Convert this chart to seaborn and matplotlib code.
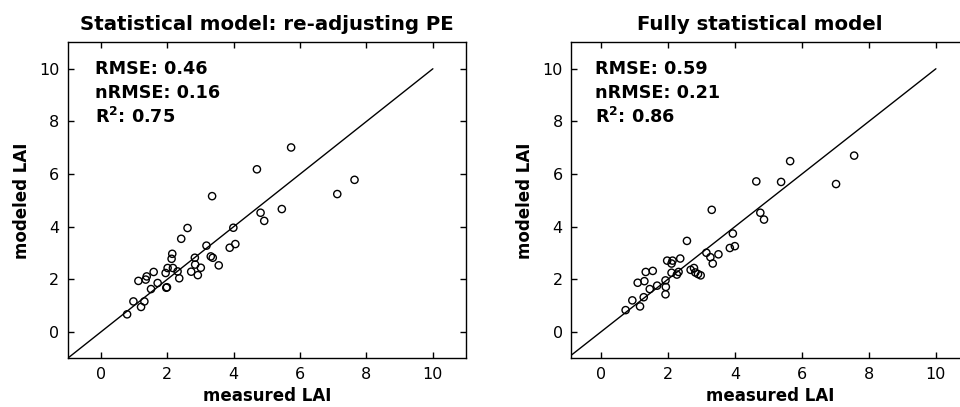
import matplotlib
matplotlib.use("Agg")
import matplotlib.pyplot as plt
import seaborn as sns
import numpy as np

# Panel 1: Statistical model: re-adjusting PE
meas_pe = [0.79, 0.98, 1.21, 1.31, 1.13, 1.35, 1.38, 1.59, 1.51, 1.71, 1.97, 1.99,
           1.95, 2.01, 2.13, 2.15, 2.17, 2.31, 2.36, 2.42, 2.61, 2.72, 2.83, 2.84,
           2.92, 3.01, 3.18, 3.31, 3.37, 3.55, 3.35, 3.88, 3.99, 4.05, 4.70, 4.81,
           4.92, 5.45, 5.73, 7.12, 7.64]
mod_pe = [0.67, 1.16, 0.95, 1.16, 1.94, 1.99, 2.11, 2.28, 1.63, 1.86, 1.68, 1.70,
          2.24, 2.43, 2.78, 2.97, 2.43, 2.30, 2.04, 3.54, 3.95, 2.29, 2.82, 2.56,
          2.16, 2.44, 3.28, 2.87, 2.82, 2.53, 5.16, 3.20, 3.96, 3.34, 6.18, 4.53,
          4.22, 4.67, 7.01, 5.24, 5.78]

# Panel 2: Fully statistical model
meas_fs = [0.74, 0.94, 1.17, 1.28, 1.10, 1.30, 1.34, 1.55, 1.46, 1.68, 1.93, 1.94,
           1.93, 1.98, 2.11, 2.14, 2.11, 2.27, 2.32, 2.37, 2.57, 2.68, 2.78, 2.82,
           2.90, 2.98, 3.15, 3.27, 3.34, 3.51, 3.31, 3.85, 3.94, 4.00, 4.64, 4.76,
           4.87, 5.38, 5.65, 7.02, 7.56]
mod_fs = [0.83, 1.20, 0.97, 1.32, 1.87, 1.93, 2.28, 2.32, 1.63, 1.76, 1.43, 1.71,
          1.96, 2.71, 2.60, 2.71, 2.25, 2.18, 2.28, 2.79, 3.46, 2.36, 2.43, 2.26,
          2.20, 2.15, 3.01, 2.84, 2.60, 2.95, 4.64, 3.19, 3.74, 3.26, 5.72, 4.53,
          4.27, 5.70, 6.49, 5.62, 6.70]

titles = ["Statistical model: re-adjusting PE", "Fully statistical model"]
stats_text = [["RMSE: 0.46", "nRMSE: 0.16", "R$^2$: 0.75"],
              ["RMSE: 0.59", "nRMSE: 0.21", "R$^2$: 0.86"]]
one_to_one = [-1, 10]
ticks = [0, 2, 4, 6, 8, 10]

sns.set_style("ticks")
plt.rcParams["font.family"] = ["DejaVu Sans"]
plt.rcParams["mathtext.default"] = "bf"
for key in ["text.color", "axes.labelcolor", "xtick.color", "ytick.color",
            "axes.edgecolor"]:
    plt.rcParams[key] = "black"

fig = plt.figure(figsize=(9.6, 4.07), dpi=100)
ax1 = fig.add_axes([0.0705, 0.1197, 0.415, 0.776])
ax2 = fig.add_axes([0.5948, 0.1197, 0.415, 0.776])

panels = [(ax1, meas_pe, mod_pe, (-1, 11), 0.5),
          (ax2, meas_fs, mod_fs, (-0.89, 11), 0.475)]

for i, (ax, xs, ys, xl, tx) in enumerate(panels):
    ax.plot(one_to_one, one_to_one, color="black", lw=1.0, zorder=1)
    sns.scatterplot(x=xs, y=ys, ax=ax, marker="o", s=27,
                    facecolors="none", edgecolor="black", linewidth=1.0, zorder=2)
    ax.set_xlim(*xl)
    ax.set_ylim(-1, 11)
    ax.set_xticks(ticks)
    ax.set_yticks(ticks)
    ax.tick_params(direction="in", top=True, right=True, length=4, width=1,
                   labelsize=11.5, pad=6, colors="black")
    for sp in ax.spines.values():
        sp.set_visible(True)
        sp.set_color("black")
        sp.set_linewidth(1.0)
    ax.set_xlabel("measured LAI", fontsize=12, fontweight="bold", labelpad=4)
    ax.set_ylabel("modeled LAI", fontsize=12, fontweight="bold", labelpad=6)
    ax.set_title(titles[i], fontsize=14.2, fontweight="bold", pad=9, x=tx)
    for j, line in enumerate(stats_text[i]):
        ax.text(-0.18, 9.98 - j * 0.91, line, fontsize=12.7, fontweight="bold",
                va="center", ha="left")

fig.savefig("out.png", dpi=100)
